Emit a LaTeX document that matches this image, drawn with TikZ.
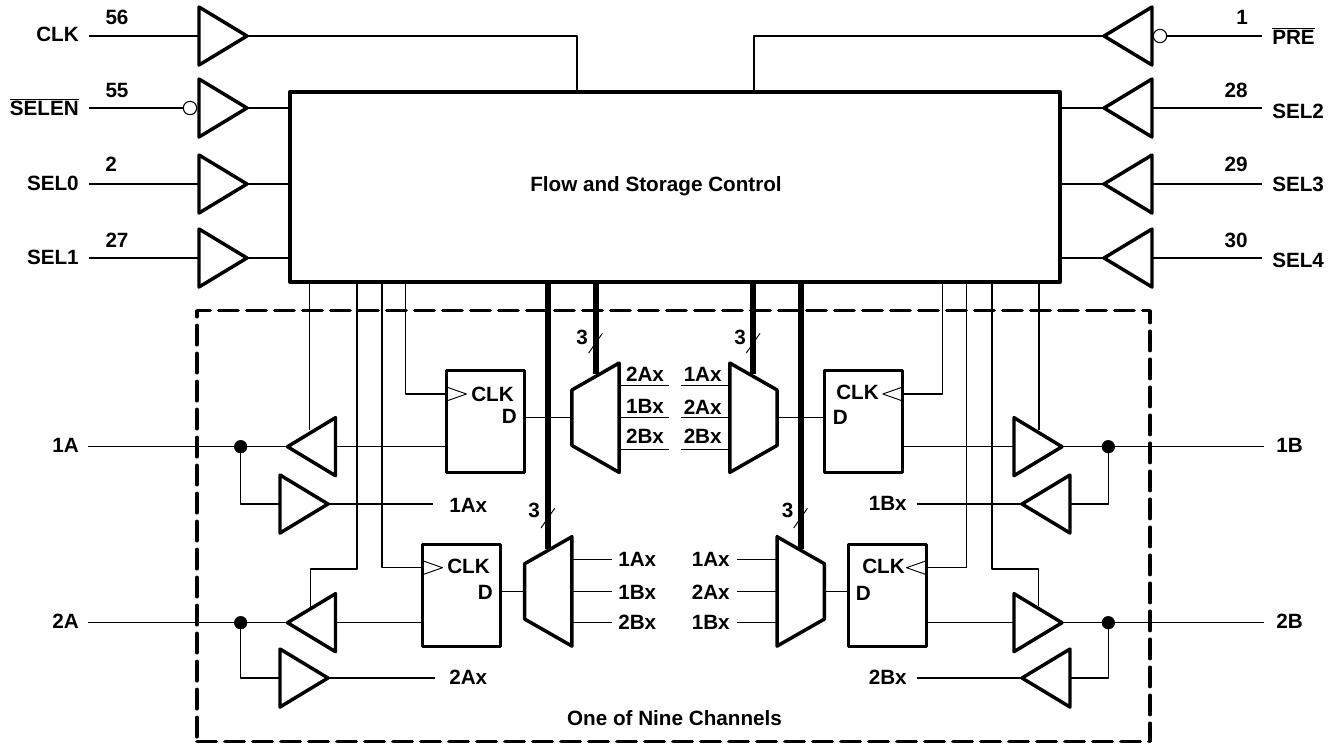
\documentclass[tikz,border=0pt]{standalone}
\usepackage{fontspec}
\setmainfont{Liberation Sans}
\usetikzlibrary{shapes.geometric}

\begin{document}
\begin{tikzpicture}[x = 0.75pt, y = -0.75pt, line join = round,
	wire/.style = {line width = 0.95pt},
	busline/.style = {line width = 4.5pt},
	lab/.style = {font = \fontsize{15.5pt}{18pt}\selectfont\bfseries, inner sep = 0pt},
	gate/.style = {draw, isosceles triangle, isosceles triangle stretches, line width = 2.6pt, inner sep = 0pt, outer sep = 0pt, minimum width = 43.5pt, minimum height = 36pt},
	gater/.style = {gate, anchor = west},
	gatel/.style = {gate, shape border rotate = 180, anchor = east},
	clktri/.style = {draw, isosceles triangle, isosceles triangle stretches, line width = 0.7pt, inner sep = 0pt, outer sep = 0pt, minimum width = 10.5pt, minimum height = 15pt},
	bubble/.style = {draw, circle, line width = 0.8pt, fill = white, minimum size = 10pt, inner sep = 0pt, outer sep = 0pt},
	dot/.style = {draw, circle, fill = black, minimum size = 9.5pt, inner sep = 0pt, outer sep = 0pt},
	flipflop/.style = {draw, rectangle, line width = 2.5pt, minimum width = 58.5pt, minimum height = 76.5pt, inner sep = 0pt, outer sep = 0pt},
	mux/.style = {draw, trapezium, trapezium stretches, trapezium left angle = 64, trapezium right angle = 64, line width = 2.6pt, minimum width = 82pt, minimum height = 35.5pt, inner sep = 1pt, outer sep = 0pt}]

	\useasboundingbox (0, 0) rectangle (1339, 744);

	% Channel frame

	\node [draw, rectangle, line cap = round, dash pattern = on 14.6pt off 6.4pt, line width = 2.6pt, minimum width = 715pt, minimum height = 323pt, inner sep = 0pt, outer sep = 0pt] (channel) at (673.5, 526) {};
	\node [lab, anchor = base] (channeltext) at (674.5, 725) {One of Nine Channels};

	% Control block

	\node [draw, rectangle, line width = 3pt, minimum width = 578pt, minimum height = 142pt, inner sep = 0pt, outer sep = 0pt] (flow) at (675, 187) {};
	\node [lab, anchor = base] (flowtext) at (656, 191) {Flow and Storage Control};

	% Input pins

	\foreach \name/\y/\ylab/\ypin/\xpin/\txt/\pin in {clk/36/41.3/24/117/CLK/56, selz/184/190/171/111/SEL0/2, sela/258/264/247/117/SEL1/27} {
		\node [gater] (g\name) at (199, \y) {};
		\node [lab, anchor = base east] (l\name) at (79, \ylab) {\txt};
		\node [lab, anchor = base] (p\name) at (\xpin, \ypin) {\pin};
		\coordinate (s\name) at (89, \y);
		\draw [wire] (s\name) -- (g\name.west);
	}

	\node [gater] (gselen) at (199, 108) {};
	\node [bubble] (bselen) at (190, 108) {};
	\node [lab, anchor = base east] (lselen) at (79, 115.3) {$\overline{\mbox{SELEN}}$};
	\node [lab, anchor = base] (pselen) at (117, 97) {55};
	\coordinate (sselen) at (89, 108);
	\draw [wire] (sselen) -- (bselen.west);

	\foreach \name/\y/\ylab/\ypin/\xpin/\txt/\pin in {seld/108/118/97/1236/SEL2/28, sele/184/191.5/171/1236/SEL3/29, self/258/267.7/247/1236/SEL4/30} {
		\node [gatel] (g\name) at (1152, \y) {};
		\node [lab, anchor = base west] (l\name) at (1272, \ylab) {\txt};
		\node [lab, anchor = base] (p\name) at (\xpin, \ypin) {\pin};
		\coordinate (s\name) at (1262, \y);
		\draw [wire] (s\name) -- (g\name.east);
		\draw [wire] (g\name.west) -- (g\name.west -| flow.east);
	}

	\node [gatel] (gpre) at (1152, 36) {};
	\node [bubble] (bpre) at (1160, 36) {};
	\node [lab, anchor = base west] (lpre) at (1272, 44) {$\overline{\mbox{PRE}}$};
	\node [lab, anchor = base] (ppre) at (1242, 24) {1};
	\coordinate (spre) at (1262, 36);
	\draw [wire] (spre) -- (bpre.east);

	% Wires into the block

	\coordinate (tclk) at (577, 36);
	\coordinate (tpre) at (754, 36);
	\draw [wire] (gclk.east) -- (tclk) -- (tclk |- flow.north);
	\draw [wire] (gpre.west) -- (tpre) -- (tpre |- flow.north);

	\foreach \name in {selen, selz, sela}
		\draw [wire] (g\name.east) -- (g\name.east -| flow.west);

	% Flip-flops

	\node [flipflop] (ffa) at (485.5, 421.5) {};
	\node [flipflop] (ffb) at (461.5, 595.5) {};
	\node [flipflop] (ffc) at (863.8, 421.5) {};
	\node [flipflop] (ffd) at (887.5, 595.5) {};

	\node [clktri, anchor = west] (tra) at (ffa.west |- 0, 394) {};
	\node [clktri, anchor = west] (trb) at (ffb.west |- 0, 567.7) {};
	\node [clktri, shape border rotate = 180, anchor = east] (trc) at (ffc.east |- 0, 394) {};
	\node [clktri, shape border rotate = 180, anchor = east] (trd) at (ffd.east |- 0, 567.7) {};

	\node [lab, anchor = base west] (clka) at (471, 401.7) {CLK};
	\node [lab, anchor = base west] (clkb) at (447, 573.3) {CLK};
	\node [lab, anchor = base east] (clkc) at (879, 399.3) {CLK};
	\node [lab, anchor = base east] (clkd) at (905, 573.3) {CLK};
	\node [lab, anchor = base east] (da) at (517, 423.3) {D};
	\node [lab, anchor = base east] (db) at (493, 599) {D};
	\node [lab, anchor = base west] (dc) at (832.5, 424.7) {D};
	\node [lab, anchor = base west] (dd) at (855.5, 600.7) {D};

	% Multiplexers

	\node [mux, rotate = 90] (muxa) at (595.5, 417.7) {};
	\node [mux, rotate = 90] (muxb) at (548.3, 591.4) {};
	\node [mux, rotate = 270] (muxc) at (753.5, 417.7) {};
	\node [mux, rotate = 270] (muxd) at (800.7, 591.4) {};

	\draw [wire] (ffa.east |- muxa.north) -- (muxa.north);
	\draw [wire] (ffb.east |- muxb.north) -- (muxb.north);
	\draw [wire] (muxc.north) -- (ffc.west |- muxc.north);
	\draw [wire] (muxd.north) -- (ffd.west |- muxd.north);

	% Multiplexer data lines

	\foreach \name/\y/\ylab/\txt in {a/385.7/381.7/2Ax, b/417.7/413/1Bx, c/449.3/443.3/2Bx} {
		\coordinate (oa\name) at (668.5, \y);
		\draw [wire] (oa\name -| muxa.south) -- (oa\name);
		\node [lab, anchor = base] (loa\name) at (645, \ylab) {\txt};
	}

	\foreach \name/\y/\ylab/\txt in {a/385.7/381.7/1Ax, b/417.7/414/2Ax, c/449.3/443.3/2Bx} {
		\coordinate (ic\name) at (680.5, \y);
		\draw [wire] (ic\name) -- (ic\name -| muxc.south);
		\node [lab, anchor = base] (lic\name) at (702.7, \ylab) {\txt};
	}

	\foreach \name/\y/\ylab/\txt in {a/559.5/566/1Ax, b/591.4/599/1Bx, c/622.7/629/2Bx} {
		\coordinate (ob\name) at (611.7, \y);
		\draw [wire] (ob\name -| muxb.south) -- (ob\name);
		\node [lab, anchor = base west] (lob\name) at (618, \ylab) {\txt};
	}

	\foreach \name/\y/\ylab/\txt in {a/559.5/566/1Ax, b/591.4/599.3/2Ax, c/622.7/629/1Bx} {
		\coordinate (id\name) at (737.3, \y);
		\draw [wire] (id\name) -- (id\name -| muxd.south);
		\node [lab, anchor = base east] (lid\name) at (730, \ylab) {\txt};
	}

	% Buses

	\foreach \name/\x/\ybot/\ylab/\xlab in {a/595.7/374/344.3/582, b/548/549/517.7/534, c/753.3/374/344.3/740, d/800.7/549/517.7/787.7} {
		\coordinate (bus\name) at (\x, \ybot);
		\draw [busline] (bus\name |- flow.south) -- (bus\name);
		\node [lab, anchor = base] (three\name) at (\xlab, \ylab) {3};
		\draw [wire, line width = 0.7pt] (bus\name) ++(-7, -21) -- ++(13.7, -19.7);
	}

	% Channel gates

	\node [gatel] (gaa) at (335.5, 446.7) {};
	\node [gater] (gab) at (280, 504) {};
	\node [gatel] (gba) at (335.5, 622.7) {};
	\node [gater] (gbb) at (280, 678) {};
	\node [gater] (gca) at (1014, 446.7) {};
	\node [gatel] (gcb) at (1070, 504) {};
	\node [gater] (gda) at (1014, 622.7) {};
	\node [gatel] (gdb) at (1070, 678) {};

	\node [dot] (ja) at (240.7, 446.7) {};
	\node [dot] (jb) at (240.7, 622.7) {};
	\node [dot] (jc) at (1108.3, 446.7) {};
	\node [dot] (jd) at (1108.3, 622.7) {};

	\node [lab, anchor = base east] (la) at (79, 452) {1A};
	\node [lab, anchor = base east] (lb) at (79, 628) {2A};
	\node [lab, anchor = base west] (lc) at (1276, 452) {1B};
	\node [lab, anchor = base west] (ld) at (1276, 628) {2B};

	\coordinate (ea) at (88, 446.7);
	\coordinate (eb) at (88, 622.7);
	\coordinate (ec) at (1264, 446.7);
	\coordinate (ed) at (1264, 622.7);

	\draw [wire] (ea) -- (gaa.west);
	\draw [wire] (eb) -- (gba.west);
	\draw [wire] (gca.east) -- (ec);
	\draw [wire] (gda.east) -- (ed);

	\draw [wire] (ja) |- (gab.west);
	\draw [wire] (jb) |- (gbb.west);
	\draw [wire] (jc) |- (gcb.east);
	\draw [wire] (jd) |- (gdb.east);

	\draw [wire] (gaa.east) -- (gaa.east -| ffa.west);
	\draw [wire] (gba.east) -- (gba.east -| ffb.west);
	\draw [wire] (gca.west -| ffc.east) -- (gca.west);
	\draw [wire] (gda.west -| ffd.east) -- (gda.west);

	% Internal buffer outputs

	\coordinate (oab) at (432.7, 504);
	\coordinate (obb) at (435, 678);
	\coordinate (ocb) at (916.7, 504);
	\coordinate (odb) at (916.7, 678);
	\draw [wire] (gab.east) -- (oab);
	\draw [wire] (gbb.east) -- (obb);
	\draw [wire] (ocb) -- (gcb.west);
	\draw [wire] (odb) -- (gdb.west);

	\node [lab, anchor = base west] (loab) at (449, 512.7) {1Ax};
	\node [lab, anchor = base west] (lobb) at (449, 684.7) {2Ax};
	\node [lab, anchor = base east] (locb) at (907, 510.7) {1Bx};
	\node [lab, anchor = base east] (lodb) at (907, 684.7) {2Bx};

	% Control lines

	\coordinate (ena) at (309.5, 430);
	\coordinate (enb) at (357, 569);
	\coordinate (enbb) at (310.7, 569);
	\coordinate (enbc) at (310.7, 607);
	\coordinate (cka) at (405.7, 394);
	\coordinate (ckb) at (382, 567.7);
	\coordinate (ckc) at (942.7, 394);
	\coordinate (ckd) at (966.7, 567.7);
	\coordinate (enc) at (1039, 430);
	\coordinate (end) at (992, 569);
	\coordinate (endb) at (1038.3, 569);
	\coordinate (endc) at (1038.3, 606);

	\draw [wire] (ena |- flow.south) -- (ena);
	\draw [wire] (enb |- flow.south) -- (enb) -- (enbb) -- (enbc);
	\draw [wire] (cka |- flow.south) -- (cka) -- (tra.west);
	\draw [wire] (ckb |- flow.south) -- (ckb) -- (trb.west);
	\draw [wire] (ckc |- flow.south) -- (ckc) -- (trc.east);
	\draw [wire] (ckd |- flow.south) -- (ckd) -- (trd.east);
	\draw [wire] (enc |- flow.south) -- (enc);
	\draw [wire] (end |- flow.south) -- (end) -- (endb) -- (endc);

\end{tikzpicture}
\end{document}
